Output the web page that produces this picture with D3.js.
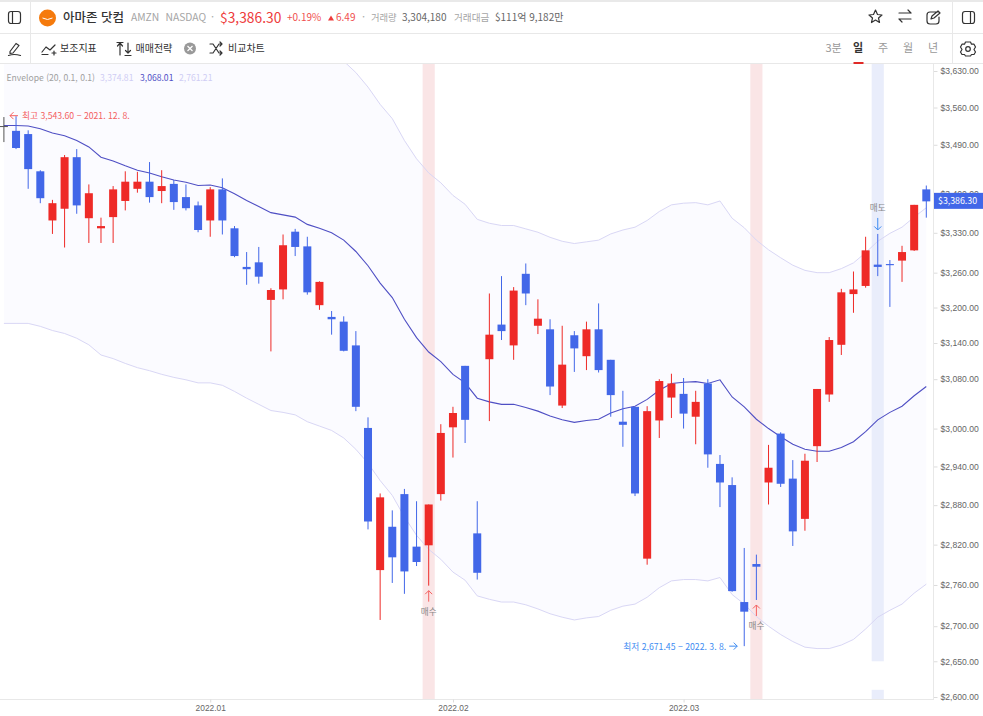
<!DOCTYPE html>
<html lang="ko">
<head>
<meta charset="utf-8">
<script src="https://cdn.jsdelivr.net/npm/d3@7"></script>
<style>
html,body{margin:0;padding:0;background:#fff;overflow:hidden}
svg{display:block;font-family:"Noto Sans CJK KR","Noto Sans",sans-serif}
</style>
</head>
<body>
<svg id="c" width="983" height="716"></svg>
<script>
const opens=[3525,3516,3510,3441,3352,3373,3467,3356,3338,3358,3387,3409,3422,3405,3418,3394,3379,3352,3408,3338,3270,3278,3213,3231,3332,3306,3204,3184,3176,3136,3001,2782,2847,2897,2817,2819,2897,3002,3102,2837,3113,3171,3136,3258,3169,3163,3037,3153,3118,3163,3112,3011,3035,2799,3013,3050,3056,3019,3073,2944,2911,2735,2791,2915,2992,2921,2859,2972,3055,3137,3223,3237,3274,3275,3281,3299,3408];
const closes=[3525,3484,3445,3392,3383,3467,3379,3401,3342,3408,3422,3422,3394,3414,3385,3374,3335,3408,3352,3289,3266,3253,3230,3308,3305,3226,3244,3180,3127,3035,2855,2892,2801,2780,2794,2881,2993,3025,3014,2778,3154,3160,3229,3224,3181,3068,3104,3131,3163,3095,3054,3006,2898,3028,3077,3073,3024,3043,2959,2915,2751,2721,2787,2938,2913,2840,2949,3064,3145,3226,3231,3299,3270,3273,3296,3380,3386.30];
const highs=[3542,3543.6,3517,3443,3389,3471,3482,3417,3357,3414,3441,3440,3458,3443,3425,3417,3386,3412,3428,3342,3296,3305,3233,3327,3337,3323,3245,3194,3185,3160,3018,2898,2872,2905,2886,2881,3007,3035,3102,2886,3224,3254,3235,3276,3214,3180,3169,3160,3176,3207,3112,3061,3035,3036,3080,3089,3082,3061,3080,2958,2923,2815,2805,2974,2994,2950,2960,3064,3150,3232,3262,3323,3328,3282,3307,3380,3415];
const lows=[3495,3482,3409,3383,3328,3304,3364,3312,3312,3312,3370,3402,3384,3383,3371,3370,3331,3323,3327,3287,3239,3241,3126,3214,3289,3222,3196,3154,3126,3028,2843,2709,2763,2747,2788,2759,2887,2954,2977,2768,3012,3145,3112,3204,3155,3054,3033,3092,3095,3091,3019,2971,2894,2790,2985,3017,3000,2975,2938,2877,2750,2671.45,2738,2881,2908,2818,2841,2947,3043,3120,3191,3234,3254,3201,3244,3298,3357];
const envMid=[3526,3526,3525,3520,3512,3507,3498,3486,3467,3460,3451,3443,3438,3431,3425,3421,3415,3416,3411,3400,3388,3377,3366,3362,3358,3345,3338,3330,3317,3297,3272,3242,3217,3180,3149,3125,3109,3088,3074,3049,3043,3039,3039,3034,3028,3020,3014,3010,3013,3015,3025,3032,3036,3047,3062,3073,3075,3076,3073,3079,3051,3035,3015,3000,2987,2975,2967,2964,2964,2970,2979,2995,3014,3026,3036,3053,3068.01];
const envUpper=[3879,3879,3878,3872,3863,3858,3848,3835,3814,3806,3796,3787,3782,3774,3768,3763,3757,3758,3752,3740,3727,3715,3703,3698,3694,3680,3672,3663,3649,3627,3599,3566,3539,3498,3464,3438,3420,3397,3381,3354,3347,3343,3343,3337,3331,3322,3315,3311,3314,3317,3328,3335,3340,3352,3368,3380,3383,3384,3380,3387,3356,3339,3317,3300,3286,3273,3264,3260,3260,3267,3277,3295,3315,3329,3340,3358,3374.81];
const envLower=[3173,3173,3173,3168,3161,3156,3148,3137,3120,3114,3106,3099,3094,3088,3083,3079,3074,3074,3070,3060,3049,3039,3029,3026,3022,3011,3004,2997,2985,2967,2945,2918,2895,2862,2834,2813,2798,2779,2767,2744,2739,2735,2735,2731,2725,2718,2713,2709,2712,2714,2723,2729,2732,2742,2756,2766,2768,2768,2766,2771,2746,2732,2714,2700,2688,2678,2670,2668,2668,2673,2681,2696,2713,2723,2732,2748,2761.21];
const priceTicks=[3630,3560,3490,3400,3330,3260,3200,3140,3080,3000,2940,2880,2820,2760,2700,2650,2600];
const dateTickIndex=[17,37,56];
const dateTickLabels=["2022.01","2022.02","2022.03"];
const buyIndex=[35,62];
const sellIndex=[72];
const sellGap=[2650,2610];
const lastPrice=3386.30;
const highLabel="최고 3,543.60 − 2021. 12. 8.";
const lowLabel="최저 2,671.45 − 2022. 3. 8.";
const highIdx=1, lowIdx=61;

const W=983,H=716,plotTop=64,plotBottom=699,axisX=933;
const BLUE="#4267e8",RED="#ee2a27";
const svg=d3.select("#c");
svg.append("rect").attr("width",W).attr("height",H).attr("fill","#fff");

const x=d3.scaleLinear().domain([0,76]).range([3.9,926.3]);
const y=d3.scaleLog().domain([2600,3630]).range([697,71]);
const idx=d3.range(opens.length);

const defs=svg.append("defs");
defs.append("clipPath").attr("id","plot").append("rect").attr("x",0).attr("y",plotTop).attr("width",axisX).attr("height",plotBottom-plotTop);
const plot=svg.append("g").attr("clip-path","url(#plot)");

// envelope fill
plot.append("path").datum(idx).attr("fill","#fbfbff")
  .attr("d",d3.area().x(i=>x(i)).y0(i=>y(envLower[i])).y1(i=>y(envUpper[i])));

// signal bands
const bw=x(1)-x(0);
plot.selectAll(".buy").data(buyIndex).join("rect").attr("x",i=>x(i)-bw/2).attr("width",bw)
  .attr("y",plotTop).attr("height",plotBottom-plotTop).attr("fill","#fae5e6");
sellIndex.forEach(i=>{
  plot.append("rect").attr("x",x(i)-bw/2).attr("width",bw).attr("y",plotTop).attr("height",y(sellGap[0])-plotTop).attr("fill","#e9edfb");
  plot.append("rect").attr("x",x(i)-bw/2).attr("width",bw).attr("y",y(sellGap[1])).attr("height",plotBottom-y(sellGap[1])).attr("fill","#e9edfb");
});

// envelope lines
const ln=a=>d3.line().x(i=>x(i)).y(i=>y(a[i]));
plot.append("path").datum(idx).attr("fill","none").attr("stroke","#d9d7f5").attr("stroke-width",1).attr("d",ln(envUpper));
plot.append("path").datum(idx).attr("fill","none").attr("stroke","#d9d7f5").attr("stroke-width",1).attr("d",ln(envLower));
plot.append("path").datum(idx).attr("fill","none").attr("stroke","#4f4fc4").attr("stroke-width",1.1).attr("d",ln(envMid));

// candles
const col=i=>closes[i]>opens[i]?RED:closes[i]<opens[i]?BLUE:"#555";
const cg=plot.selectAll(".candle").data(idx).join("g");
cg.append("line").attr("x1",i=>x(i)).attr("x2",i=>x(i)).attr("y1",i=>y(highs[i])).attr("y2",i=>y(lows[i])).attr("stroke",col).attr("stroke-width",1);
cg.append("rect").attr("x",i=>x(i)-4).attr("width",8)
  .attr("y",i=>y(Math.max(opens[i],closes[i])))
  .attr("height",i=>Math.max(1,Math.abs(y(opens[i])-y(closes[i]))))
  .attr("fill",col);

// axes
svg.append("line").attr("x1",0).attr("x2",axisX).attr("y1",plotBottom+.5).attr("y2",plotBottom+.5).attr("stroke","#e8e8e8");
const yAxis=svg.append("g").attr("transform",`translate(${axisX+.5},0)`)
  .call(d3.axisRight(y).tickValues(priceTicks).tickSize(4).tickPadding(3).tickFormat(d=>"$"+d3.format(",.2f")(d)));
yAxis.select(".domain").remove();
yAxis.selectAll("line").attr("stroke","#dcdcdc");
yAxis.selectAll("text").attr("fill","#666").attr("font-size",8.6).attr("font-family","inherit");
svg.append("line").attr("x1",axisX+.5).attr("x2",axisX+.5).attr("y1",plotTop).attr("y2",plotBottom+1).attr("stroke","#e8e8e8");

const xAxis=svg.append("g").attr("transform",`translate(0,${plotBottom+.5})`)
  .call(d3.axisBottom(x).tickValues(dateTickIndex).tickSize(3).tickPadding(3).tickFormat((d,i)=>dateTickLabels[i]));
xAxis.select(".domain").remove();
xAxis.selectAll("line").attr("stroke","#dcdcdc");
xAxis.selectAll("text").attr("fill","#666").attr("font-size",8.4).attr("font-family","inherit");

// last price tag
const tagG=svg.append("g");
tagG.append("rect").attr("x",axisX+1).attr("width",W-axisX-1).attr("y",y(lastPrice)-8.5).attr("height",16).attr("fill",BLUE);
tagG.append("text").attr("x",938).attr("y",y(lastPrice)+3).attr("fill","#fff").attr("font-size",8.8).text("$"+d3.format(",.2f")(lastPrice));

// annotations
const arrow=(pts,color)=>svg.append("path").attr("d",pts).attr("fill","none").attr("stroke",color).attr("stroke-width",1);
const hy=y(highs[highIdx]), ly=y(lows[lowIdx]);
arrow(`M18 ${hy-.5}H10M13.5 ${hy-4}L10 ${hy-.5}L13.5 ${hy+3}`,"#f4605f");
svg.append("text").attr("x",22).attr("y",hy+3).attr("fill","#f4605f").attr("font-size",8.7).text(highLabel);
const lx=x(lowIdx);
arrow(`M${lx-15} ${ly}H${lx-7}M${lx-10.5} ${ly-3.5}L${lx-7} ${ly}L${lx-10.5} ${ly+3.5}`,"#3d8bf2");
svg.append("text").attr("x",lx-18).attr("y",ly+3.5).attr("text-anchor","end").attr("fill","#3d8bf2").attr("font-size",8.7).text(lowLabel);

buyIndex.forEach(i=>{
  const bx=x(i), by=y(lows[i])+5;
  arrow(`M${bx} ${by+11}V${by}M${bx-3.5} ${by+3.5}L${bx} ${by}L${bx+3.5} ${by+3.5}`,"#f4605f");
  svg.append("text").attr("x",bx).attr("y",by+24).attr("text-anchor","middle").attr("fill","#888").attr("font-size",8.6).text("매수");
});
sellIndex.forEach(i=>{
  const sx=x(i), sy=y(highs[i])-4;
  arrow(`M${sx} ${sy-12}V${sy}M${sx-3.5} ${sy-3.5}L${sx} ${sy}L${sx+3.5} ${sy-3.5}`,"#3d8bf2");
  svg.append("text").attr("x",sx).attr("y",sy-19).attr("text-anchor","middle").attr("fill","#888").attr("font-size",8.6).text("매도");
});

// legend
const legend=[["Envelope (20, 0.1, 0.1)",6.5,"#a0a0a0"],["3,374.81",100,"#cfcdf4"],["3,068.01",140,"#5151c6"],["2,761.21",179,"#cfcdf4"]];
svg.selectAll(".lg").data(legend).join("text").attr("x",d=>d[1]).attr("y",80.5).attr("fill",d=>d[2]).attr("font-size",8.6).text(d=>d[0]);

// header chrome
const chrome=svg.append("g");
chrome.append("rect").attr("width",W).attr("height",2).attr("fill","#e9e9e9");
[[33.5],[63.5]].forEach(d=>chrome.append("line").attr("x1",0).attr("x2",W).attr("y1",d[0]).attr("y2",d[0]).attr("stroke","#e8e8e8"));
[30.5,952.5].forEach(d=>chrome.append("line").attr("x1",d).attr("x2",d).attr("y1",2).attr("y2",63).attr("stroke","#e8e8e8"));
const T=(s,px,py,size,fill,weight,anchor)=>chrome.append("text").attr("x",px).attr("y",py).attr("font-size",size).attr("fill",fill).attr("font-weight",weight||400).attr("text-anchor",anchor||"start").text(s);
T("아마존 닷컴",63,22,12.5,"#333",500);
T("AMZN",131,21,10.3,"#a5a5a5");
T("NASDAQ",165.5,21,10.3,"#a5a5a5");
T("·",211,21,11,"#aaa");
T("$3,386.30",220,23,13.8,"#ee3b3b");
T("+0.19%",287,21,10,"#f0504f");
chrome.append("path").attr("d","M328 20.5l3 -5l3 5z").attr("fill","#ee3b3b");
T("6.49",336,21,10,"#f0504f");
T("·",362,21,11,"#aaa");
T("거래량",371,21,9.3,"#a5a5a5");
T("3,304,180",402,21,10,"#666");
T("거래대금",454,21,9.6,"#a5a5a5");
T("$111억 9,182만",495,21,10,"#666");
T("보조지표",60,52,10,"#333");
T("매매전략",135.5,52,10,"#333");
T("비교차트",228,52,10,"#333");
[["3분",825.5,"#999",400],["일",853,"#333",700],["주",878,"#999",400],["월",903,"#999",400],["년",928,"#999",400]].forEach(d=>T(d[0],d[1],52,11,d[2],d[3]));
chrome.append("rect").attr("x",853.5).attr("y",62).attr("width",10).attr("height",2).attr("fill","#e02a27");

// logo
chrome.append("circle").attr("cx",47.5).attr("cy",18).attr("r",8.5).attr("fill","#f57a0c");
chrome.append("path").attr("d","M42.5 18q5 3 10 0").attr("fill","none").attr("stroke","#fff").attr("stroke-width",1);

const I=(d,w)=>chrome.append("path").attr("d",d).attr("fill","none").attr("stroke","#333").attr("stroke-width",w||1.2).attr("stroke-linecap","round").attr("stroke-linejoin","round");
chrome.append("rect").attr("x",8.5).attr("y",11.5).attr("width",12).attr("height",12).attr("rx",2.5).attr("fill","none").attr("stroke","#333").attr("stroke-width",1.2);
I("M12.5 11.5V23.5");
chrome.append("rect").attr("x",962.5).attr("y",11.5).attr("width",12).attr("height",12).attr("rx",2.5).attr("fill","none").attr("stroke","#333").attr("stroke-width",1.2);
I("M970.5 11.5V23.5");
I("M10 51.5L16 43.5L19 45.5L13 53L10 53.5ZM8.5 55.5Q14 53.5 20.5 55.5");
I("M42 52L46 47L50 50L55 45M42 54.5H48M52 53H56M54 51V55");
I("M120 43V55M117.5 46L120 43L122.5 46M128 43V53M125.5 50.5L128 53L130.5 50.5M125 55.5H131M117 42.5H123");
chrome.append("circle").attr("cx",190).attr("cy",48.5).attr("r",6).attr("fill","#999");
chrome.append("path").attr("d","M187.5 46L192.5 51M192.5 46L187.5 51").attr("stroke","#fff").attr("stroke-width",1.2);
I("M210 44H213L219 53H222M210 53H213L219 44H222M220 42L222 44L220 46M220 51L222 53L220 55");
I("M875.5 10L877.5 14.5L882 15L878.5 18L879.5 22.5L875.5 20L871.5 22.5L872.5 18L869 15L873.5 14.5Z");
I("M899 13H911M908 10L911 13M911 19H899M902 22L899 19");
I("M938 12H930Q927 12 927 15V21Q927 24 930 24H936Q939 24 939 21V17M931 19L932 16L938 11L940 13L934 18Z");
I("M965.5 42H970.5L971.5 44.2L974 44.2L975.5 47L974 49.5L975.5 52L974 54.5L971.5 54.5L970.5 56H965.5L964.5 54.5L962 54.5L960.5 52L962 49.5L960.5 47L962 44.2L964.5 44.2Z");
chrome.append("circle").attr("cx",968).attr("cy",49).attr("r",2.3).attr("fill","none").attr("stroke","#333").attr("stroke-width",1.2);
</script>
</body>
</html>
